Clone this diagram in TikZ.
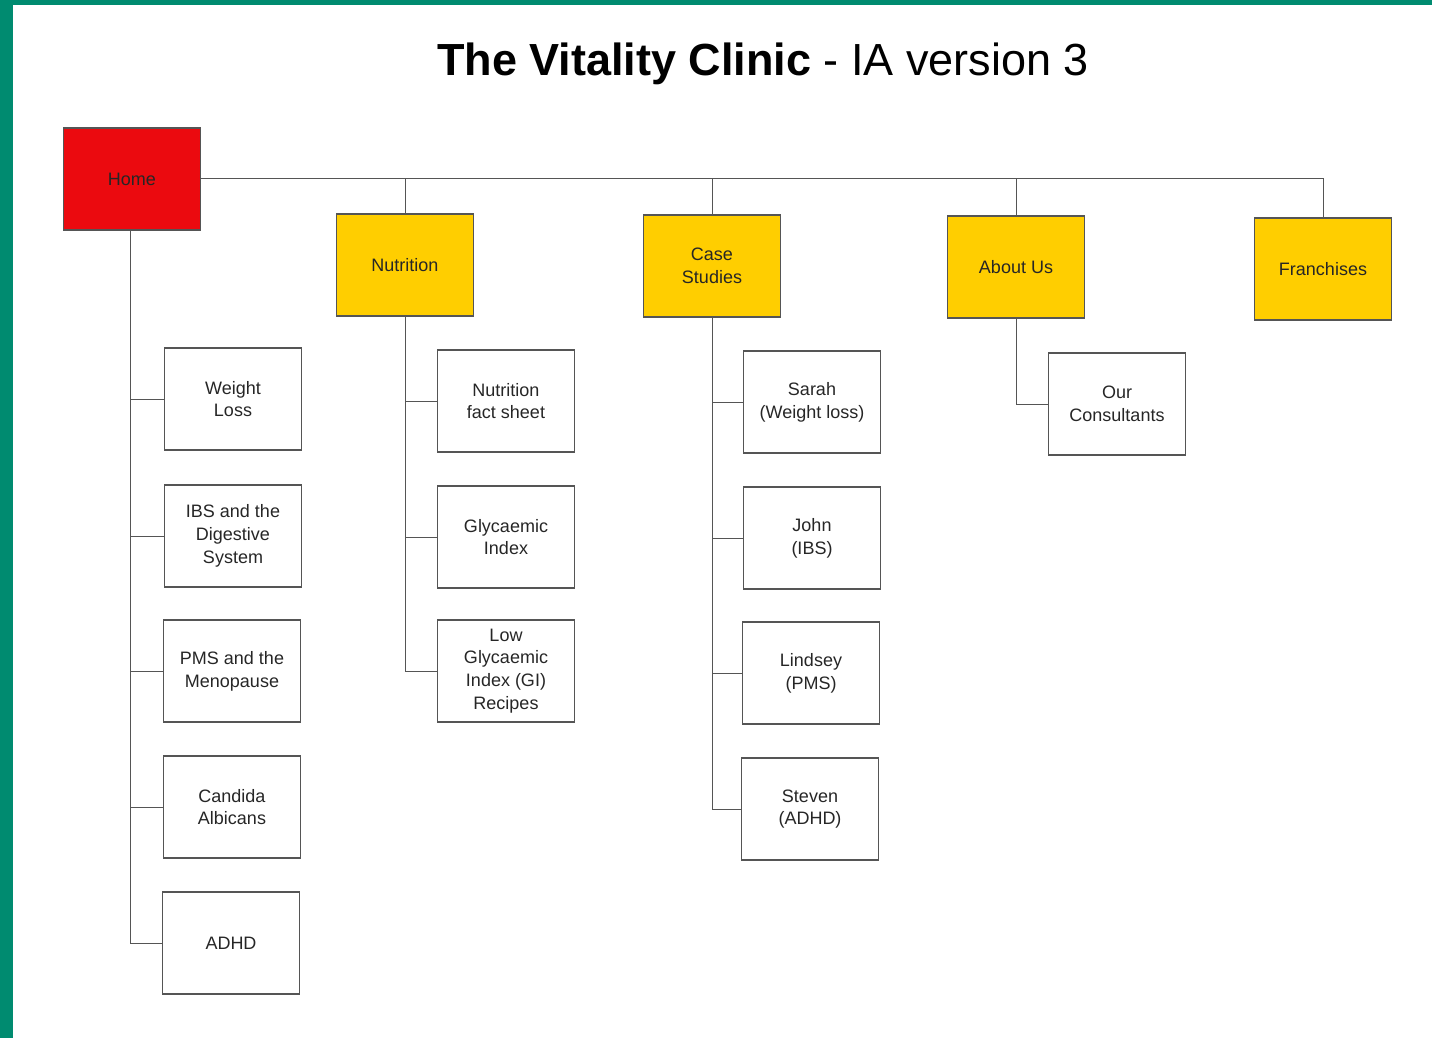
\documentclass[tikz,border=0pt]{standalone}
\usepackage{fontspec}
\setmainfont{Liberation Sans}
\definecolor{frame}{RGB}{0,139,112}
\definecolor{homered}{RGB}{235,10,15}
\definecolor{secyellow}{RGB}{255,206,0}
\definecolor{edge}{RGB}{85,85,85}
\begin{document}
\begin{tikzpicture}[x=0.5pt,y=-0.5pt,
  box/.style={draw=edge,line width=0.6pt,minimum width=68.5pt,minimum height=51pt,
    inner sep=0pt,align=center,font=\fontsize{9}{11.4}\selectfont,text=black!85},
  top/.style={box,fill=secyellow},
  conn/.style={draw=edge,line width=0.5pt}]

\useasboundingbox (0,0) rectangle (1432,1038);
\fill[frame] (0,0) rectangle (13,1038);
\fill[frame] (0,0) rectangle (1432,5);

\node at (763,64) {\fontsize{22.5}{26}\selectfont\textbf{The Vitality Clinic} - IA version 3};

\node[box,fill=homered] (home) at (132,179) {Home};
\node[top] (nutr) at (405,265) {Nutrition};
\node[top] (case) at (712,266) {Case\\Studies};
\node[top] (about) at (1016,267) {About Us};
\node[top] (franch) at (1323,269) {Franchises};

\node[box] (wl) at (233,399) {Weight\\Loss};
\node[box] (ibs) at (233,536) {IBS and the\\Digestive\\System};
\node[box] (pms) at (232,671) {PMS and the\\Menopause};
\node[box] (cand) at (232,807) {Candida\\Albicans};
\node[box] (adhd) at (231,943) {ADHD};

\node[box] (fact) at (506,401) {Nutrition\\fact sheet};
\node[box] (gi) at (506,537) {Glycaemic\\Index};
\node[box] (recipes) at (506,671) {Low\\Glycaemic\\Index (GI)\\Recipes};

\node[box] (sarah) at (812,402) {Sarah\\(Weight loss)};
\node[box] (john) at (812,538) {John\\(IBS)};
\node[box] (lindsey) at (811,673) {Lindsey\\(PMS)};
\node[box] (steven) at (810,809) {Steven\\(ADHD)};

\node[box] (consult) at (1117,404) {Our\\Consultants};

\draw[conn] (home.east) -| (franch.north);
\draw[conn] (nutr.north) -- (nutr.north |- home.east);
\draw[conn] (case.north) -- (case.north |- home.east);
\draw[conn] (about.north) -- (about.north |- home.east);

\draw[conn] (home.south) ++(-2,0) |- (adhd.west);
\foreach \n in {wl,ibs,pms,cand}
  \draw[conn] ([xshift=-1pt]home.south |- \n.west) -- (\n.west);

\draw[conn] (nutr.south) |- (recipes.west);
\foreach \n in {fact,gi}
  \draw[conn] (nutr.south |- \n.west) -- (\n.west);

\draw[conn] (case.south) |- (steven.west);
\foreach \n in {sarah,john,lindsey}
  \draw[conn] (case.south |- \n.west) -- (\n.west);

\draw[conn] (about.south) |- (consult.west);

\end{tikzpicture}
\end{document}
